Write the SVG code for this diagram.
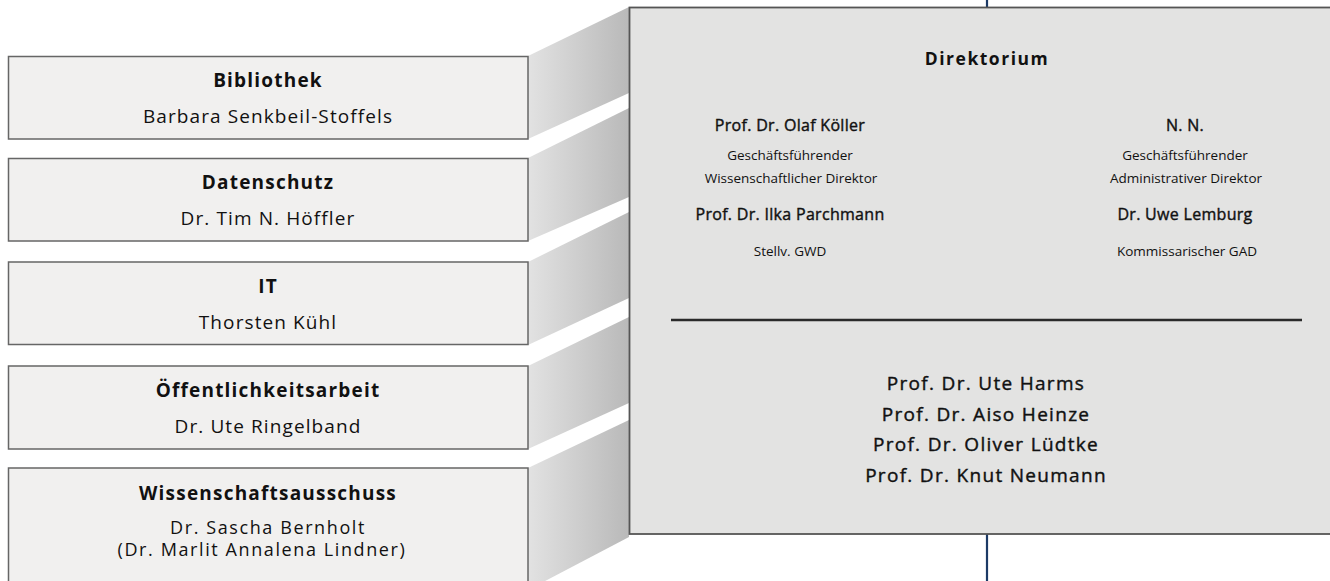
<svg xmlns="http://www.w3.org/2000/svg" width="1330" height="581" viewBox="0 0 1330 581">
<defs>
<linearGradient id="band" x1="0" y1="0" x2="1" y2="0">
<stop offset="0" stop-color="#e2e2e2"/>
<stop offset="1" stop-color="#b9b9b9"/>
</linearGradient>
<style>
.box{fill:#f1f0ef;stroke:#666;stroke-width:1.5}
.big{fill:#e3e3e2;stroke:#555;stroke-width:1.8}
.band{fill:url(#band)}
.vl{stroke:#1c3a66;stroke-width:2.2;fill:none}
.div{stroke:#2a2a2a;stroke-width:2.5}
text{font-family:"Open Sans","Noto Sans","DejaVu Sans",sans-serif;fill:#111;text-anchor:middle}
.t{font-size:19px;font-weight:700;letter-spacing:1.2px}
.n{font-size:19px;letter-spacing:1.1px}
.m{font-size:18px;letter-spacing:1.6px}
.h{font-size:17.5px;font-weight:700;letter-spacing:1.5px}
.p{font-size:16px;letter-spacing:0.3px;stroke:#111;stroke-width:0.4}
.q{font-size:19px;letter-spacing:1.3px;stroke:#111;stroke-width:0.4}
.s{font-size:13.5px;letter-spacing:0px}
</style>
</defs>
<g id="connectors">
<polygon class="band" points="528,56 629,7 629,93 528,139"/>
<polygon class="band" points="528,158 629,108 629,197 528,241"/>
<polygon class="band" points="528,262 629,212 629,298 528,345"/>
<polygon class="band" points="528,366 629,317 629,403 528,449"/>
<polygon class="band" points="528,468 629,420 629,537 528,590"/>
<line class="vl" x1="987" y1="0" x2="987" y2="8"/>
<line class="vl" x1="987" y1="534" x2="987" y2="581"/>
</g>
<g id="bibliothek">
<rect class="box" x="8.5" y="56.5" width="519.5" height="82.5"/>
<text class="t" x="268" y="87">Bibliothek</text>
<text class="n" x="268" y="123">Barbara Senkbeil-Stoffels</text>
</g>
<g id="datenschutz">
<rect class="box" x="8.5" y="158.5" width="519.5" height="82.5"/>
<text class="t" x="268" y="189">Datenschutz</text>
<text class="n" x="268" y="225">Dr. Tim N. Höffler</text>
</g>
<g id="it">
<rect class="box" x="8.5" y="262" width="519.5" height="82.5"/>
<text class="t" x="268" y="293">IT</text>
<text class="n" x="268" y="329">Thorsten Kühl</text>
</g>
<g id="oeffentlichkeitsarbeit">
<rect class="box" x="8.5" y="366" width="519.5" height="83"/>
<text class="t" x="268" y="397">Öffentlichkeitsarbeit</text>
<text class="n" x="268" y="433">Dr. Ute Ringelband</text>
</g>
<g id="wissenschaftsausschuss">
<rect class="box" x="8.5" y="468" width="519.5" height="130"/>
<text class="t" x="268" y="500">Wissenschaftsausschuss</text>
<text class="m" x="268" y="534">Dr. Sascha Bernholt</text>
<text class="m" x="262" y="556">(Dr. Marlit Annalena Lindner)</text>
</g>
<g id="direktorium">
<rect class="big" x="629.5" y="7.5" width="800" height="526.5"/>
<text class="h" x="987" y="65">Direktorium</text>
<text class="p" x="790" y="131">Prof. Dr. Olaf Köller</text>
<text class="s" x="790" y="160">Geschäftsführender</text>
<text class="s" x="791" y="183">Wissenschaftlicher Direktor</text>
<text class="p" x="790" y="220">Prof. Dr. Ilka Parchmann</text>
<text class="s" x="790" y="256">Stellv. GWD</text>
<text class="p" x="1185" y="131">N. N.</text>
<text class="s" x="1185" y="160">Geschäftsführender</text>
<text class="s" x="1186" y="183">Administrativer Direktor</text>
<text class="p" x="1185" y="220">Dr. Uwe Lemburg</text>
<text class="s" x="1187" y="256">Kommissarischer GAD</text>
<line class="div" x1="671" y1="320" x2="1302" y2="320"/>
<text class="q" x="986" y="390">Prof. Dr. Ute Harms</text>
<text class="q" x="986" y="421">Prof. Dr. Aiso Heinze</text>
<text class="q" x="986" y="451">Prof. Dr. Oliver Lüdtke</text>
<text class="q" x="986" y="482">Prof. Dr. Knut Neumann</text>
</g>
</svg>
